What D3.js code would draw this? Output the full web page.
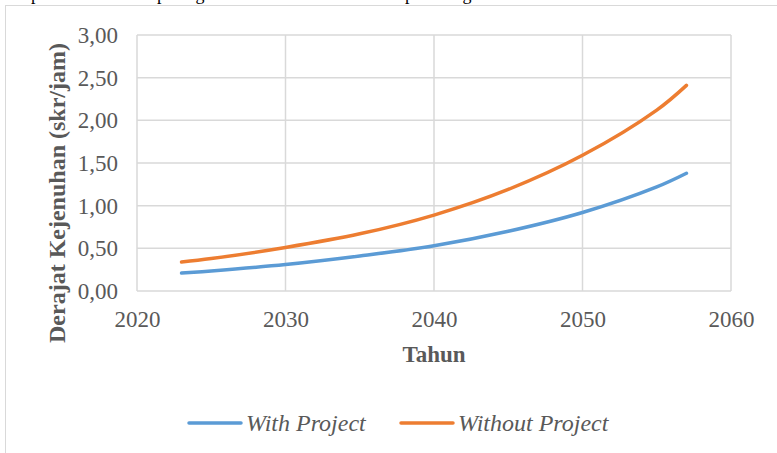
<!DOCTYPE html>
<html>
<head>
<meta charset="utf-8">
<script src="https://cdn.jsdelivr.net/npm/d3@7/dist/d3.min.js"></script>
<style>
  html, body { margin: 0; padding: 0; background: #fff; }
  svg { display: block; }
  text { font-family: "Liberation Serif", "Times New Roman", serif; }
</style>
</head>
<body>
<svg id="chart" width="777" height="453"></svg>
<script>
// Years at which the saturation degree is plotted
const years = [2023, 2025, 2030, 2035, 2040, 2045, 2050, 2055, 2057];
// Degree of saturation (skr/jam) with the project in place
const withProject = [0.21, 0.235, 0.31, 0.41, 0.53, 0.70, 0.92, 1.22, 1.38];
// Degree of saturation (skr/jam) without the project
const withoutProject = [0.34, 0.38, 0.51, 0.67, 0.89, 1.19, 1.59, 2.12, 2.41];
// Axis ticks
const xTicks = [2020, 2030, 2040, 2050, 2060];
const yTicks = [0, 0.5, 1, 1.5, 2, 2.5, 3];
const seriesNames = ["With Project", "Without Project"];
const seriesColors = ["#5b9bd5", "#ed7d31"];

const svg = d3.select("#chart");
const serif = "Liberation Serif";

// Tail of the caption line above the chart frame
const caption = svg.append("text")
  .attr("font-family", serif)
  .attr("font-size", 18)
  .attr("fill", "#000");
[[14, "dapat dilihat bahwa"], [157, "pada grafik di atas terlihat"], [405, "pada tingkat"]]
  .forEach(([px, s]) => caption.append("tspan").attr("x", px).attr("y", 0).text(s));

// Chart frame
svg.append("rect")
  .attr("x", 5.5).attr("y", 5.5)
  .attr("width", 800).attr("height", 500)
  .attr("fill", "#fff")
  .attr("stroke", "#d9d9d9")
  .attr("stroke-width", 1);

const plot = { left: 137, right: 731, top: 35, bottom: 291 };

const x = d3.scaleLinear().domain([2020, 2060]).range([plot.left, plot.right]);
const y = d3.scaleLinear().domain([0, 3]).range([plot.bottom, plot.top]);

const grid = "#d9d9d9";

// Horizontal gridlines
svg.append("g")
  .selectAll("line")
  .data(yTicks)
  .join("line")
  .attr("x1", plot.left).attr("x2", plot.right)
  .attr("y1", d => y(d)).attr("y2", d => y(d))
  .attr("stroke", grid).attr("stroke-width", 1.5);

// Vertical gridlines
svg.append("g")
  .selectAll("line")
  .data(xTicks)
  .join("line")
  .attr("x1", d => x(d)).attr("x2", d => x(d))
  .attr("y1", plot.top).attr("y2", plot.bottom)
  .attr("stroke", grid).attr("stroke-width", 1.5);

// Y axis tick labels
const fmt = d => d3.format(".2f")(d).replace(".", ",");
const yAxis = svg.append("g")
  .attr("transform", `translate(${plot.left},0)`)
  .call(d3.axisLeft(y).tickValues(yTicks).tickFormat(fmt).tickSize(0).tickPadding(19));
yAxis.select(".domain").remove();
yAxis.selectAll("text")
  .attr("font-family", serif)
  .attr("font-size", 23)
  .attr("fill", "#595959");

// X axis tick labels
const xAxis = svg.append("g")
  .attr("transform", `translate(0,${plot.bottom})`)
  .call(d3.axisBottom(x).tickValues(xTicks).tickFormat(d3.format("d")).tickSize(0).tickPadding(20));
xAxis.select(".domain").remove();
xAxis.selectAll("text")
  .attr("font-family", serif)
  .attr("font-size", 23)
  .attr("fill", "#595959");

// Axis titles
svg.append("text")
  .attr("x", (plot.left + plot.right) / 2)
  .attr("y", 362)
  .attr("text-anchor", "middle")
  .attr("font-family", serif)
  .attr("font-size", 23)
  .attr("font-weight", "bold")
  .attr("fill", "#595959")
  .text("Tahun");

svg.append("text")
  .attr("transform", `translate(65,${(plot.top + plot.bottom) / 2 + 30}) rotate(-90)`)
  .attr("text-anchor", "middle")
  .attr("font-family", serif)
  .attr("font-size", 24)
  .attr("font-weight", "bold")
  .attr("fill", "#595959")
  .text("Derajat Kejenuhan (skr/jam)");

// Series lines
const line = d3.line()
  .x(d => x(d[0]))
  .y(d => y(d[1]))
  .curve(d3.curveCatmullRom.alpha(0.5));

[withProject, withoutProject].forEach((vals, i) => {
  svg.append("path")
    .datum(years.map((yr, j) => [yr, vals[j]]))
    .attr("d", line)
    .attr("fill", "none")
    .attr("stroke", seriesColors[i])
    .attr("stroke-width", 3.5)
    .attr("stroke-linecap", "round")
    .attr("stroke-linejoin", "round");
});

// Legend
const legendX = [189, 401];
seriesNames.forEach((name, i) => {
  const g = svg.append("g").attr("transform", `translate(${legendX[i]},423)`);
  g.append("line")
    .attr("x1", 0).attr("x2", 52)
    .attr("y1", 0).attr("y2", 0)
    .attr("stroke", seriesColors[i])
    .attr("stroke-width", 3.5)
    .attr("stroke-linecap", "round");
  g.append("text")
    .attr("x", 57).attr("y", 8)
    .attr("font-family", serif)
    .attr("font-size", 24)
    .attr("font-style", "italic")
    .attr("fill", "#595959")
    .text(name);
});
</script>
</body>
</html>
